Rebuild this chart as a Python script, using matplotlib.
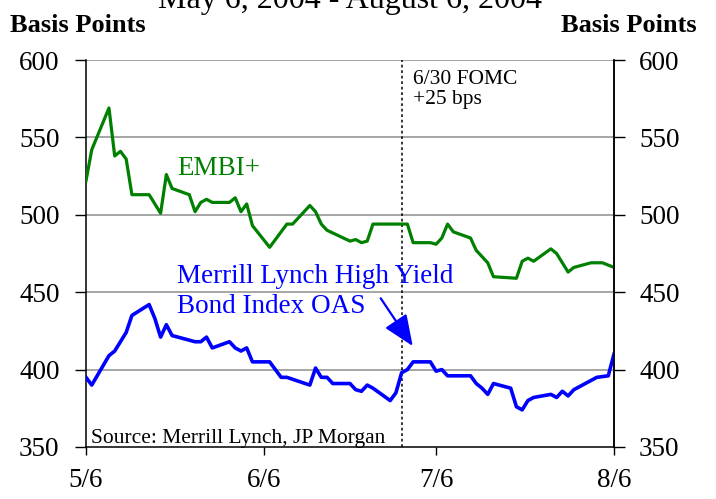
import matplotlib
matplotlib.use("Agg")
import matplotlib.pyplot as plt
import pandas as pd

plt.rcParams['font.family'] = ['Liberation Serif', 'DejaVu Serif']

embi_dates = ["2004-05-06", "2004-05-07", "2004-05-10", "2004-05-11", "2004-05-12", "2004-05-13",
              "2004-05-14", "2004-05-17", "2004-05-18", "2004-05-19", "2004-05-20", "2004-05-21",
              "2004-05-24", "2004-05-25", "2004-05-26", "2004-05-27", "2004-05-28", "2004-05-31",
              "2004-06-01", "2004-06-02", "2004-06-03", "2004-06-04", "2004-06-07", "2004-06-08",
              "2004-06-10", "2004-06-11", "2004-06-14", "2004-06-15", "2004-06-16", "2004-06-17",
              "2004-06-21", "2004-06-22", "2004-06-23", "2004-06-24", "2004-06-25", "2004-07-01",
              "2004-07-02", "2004-07-05", "2004-07-06", "2004-07-07", "2004-07-08", "2004-07-09",
              "2004-07-12", "2004-07-13", "2004-07-15", "2004-07-16", "2004-07-20", "2004-07-21",
              "2004-07-22", "2004-07-23", "2004-07-26", "2004-07-27", "2004-07-29", "2004-07-30",
              "2004-08-02", "2004-08-04", "2004-08-06"]
embi_values = [522, 542, 569, 538, 541, 536,
               513, 513, 507, 501, 526, 517,
               513, 502, 508, 510, 508, 508,
               511, 502, 507, 493, 479, 484,
               494, 494, 506, 502, 494, 490,
               483, 484, 482, 483, 494, 494,
               482, 482, 481, 485, 494, 489,
               485, 477, 469, 460, 459, 470,
               472, 470, 478, 475, 463, 466,
               469, 469, 466]

ml_dates = ["2004-05-06", "2004-05-07", "2004-05-10", "2004-05-11", "2004-05-12", "2004-05-13",
            "2004-05-14", "2004-05-17", "2004-05-18", "2004-05-19", "2004-05-20", "2004-05-21",
            "2004-05-25", "2004-05-26", "2004-05-27", "2004-05-28", "2004-05-31", "2004-06-01",
            "2004-06-02", "2004-06-03", "2004-06-04", "2004-06-07", "2004-06-09", "2004-06-10",
            "2004-06-14", "2004-06-15", "2004-06-16", "2004-06-17", "2004-06-18", "2004-06-21",
            "2004-06-22", "2004-06-23", "2004-06-24", "2004-06-25", "2004-06-28", "2004-06-29",
            "2004-06-30", "2004-07-01", "2004-07-02", "2004-07-05", "2004-07-06", "2004-07-07",
            "2004-07-08", "2004-07-12", "2004-07-13", "2004-07-14", "2004-07-15", "2004-07-16",
            "2004-07-19", "2004-07-20", "2004-07-21", "2004-07-22", "2004-07-23", "2004-07-26",
            "2004-07-27", "2004-07-28", "2004-07-29", "2004-07-30", "2004-08-03", "2004-08-05",
            "2004-08-06"]
ml_values = [395, 390, 409, 412, 418, 424,
             435, 442, 433, 421, 429, 422,
             418, 418, 421, 414, 418, 414,
             412, 414, 405, 405, 395, 395,
             390, 401, 395, 395, 391, 391,
             387, 386, 390, 388, 380, 385,
             398, 400, 405, 405, 399, 400,
             396, 396, 391, 388, 384, 391,
             388, 376, 374, 380, 382, 384,
             382, 386, 383, 387, 395, 396,
             410]

xtick_dates = ["2004-05-06", "2004-06-06", "2004-07-06", "2004-08-06"]
xtick_labels = ["5/6", "6/6", "7/6", "8/6"]
yticks = [350, 400, 450, 500, 550, 600]
fomc_date = "2004-06-30"
title = "May 6, 2004 - August 6, 2004"

W, H = 716, 499
fig = plt.figure(figsize=(W / 100, H / 100), dpi=100)
ax = fig.add_axes([86 / W, 1 - 447 / H, 528 / W, 387 / H])

ed = pd.to_datetime(embi_dates)
md = pd.to_datetime(ml_dates)
green = "#008000"
blue = "#0000FF"

for y in yticks[1:]:
    ax.axhline(y, color="#a6a6a6", lw=1.4, zorder=1)

ax.plot(ed, embi_values, color=green, lw=2.3, zorder=3)
ax.plot(md, ml_values, color=blue, lw=2.6, zorder=3)
ax.axvline(pd.Timestamp(fomc_date), color="black", lw=1.1, ls=(0, (1.8, 1.8)), zorder=2)

ax.set_xlim(pd.Timestamp(xtick_dates[0]), pd.Timestamp(xtick_dates[-1]))
ax.set_ylim(yticks[0], yticks[-1])
ax.set_xticks(pd.to_datetime(xtick_dates))
ax.set_xticklabels(xtick_labels)
ax.set_yticks(yticks)
ax.set_yticklabels([str(v) for v in yticks])
ax.tick_params(axis="x", direction="out", length=6, width=1, labelsize=19.5, pad=9)
ax.tick_params(axis="y", direction="out", length=8, width=1, labelsize=19.5, pad=11)

for s in ["left", "bottom", "right"]:
    ax.spines[s].set_color("black")
    ax.spines[s].set_linewidth(1.1)
ax.spines["top"].set_visible(False)

ax2 = ax.twinx()
ax2.set_ylim(yticks[0], yticks[-1])
ax2.set_yticks(yticks)
ax2.set_yticklabels([str(v) for v in yticks])
ax2.tick_params(axis="y", direction="out", length=8, width=1, labelsize=19.5, pad=10)
for s in ["left", "bottom", "top"]:
    ax2.spines[s].set_visible(False)
ax2.spines["right"].set_color("black")
ax2.spines["right"].set_linewidth(1.1)

ax.text(0.172, 0.703, "EMBI+", transform=ax.transAxes, color=green, fontsize=19.5, va="baseline")
ax.text(0.172, 0.424, "Merrill Lynch High Yield", transform=ax.transAxes, color=blue,
        fontsize=19.5, va="baseline")
ax.text(0.172, 0.346, "Bond Index OAS", transform=ax.transAxes, color=blue,
        fontsize=19.5, va="baseline")
ax.text(0.619, 0.939, "6/30 FOMC", transform=ax.transAxes, color="black", fontsize=15.5, va="baseline")
ax.text(0.619, 0.887, "+25 bps", transform=ax.transAxes, color="black", fontsize=15.5, va="baseline")
ax.text(0.0095, 0.011, "Source: Merrill Lynch, JP Morgan", transform=ax.transAxes,
        color="black", fontsize=15.5, va="baseline")

ax.annotate("", xy=((412.7 - 86) / 528, (447 - 346) / 387), xycoords="axes fraction",
            xytext=((380.7 - 86) / 528, (447 - 298.3) / 387), textcoords="axes fraction",
            arrowprops=dict(arrowstyle="-|>,head_length=0.95,head_width=0.4", color=blue,
                            lw=1.6, mutation_scale=20, shrinkA=0, shrinkB=0))

fig.text(10 / W, 1 - 32 / H, "Basis Points", fontsize=19, fontweight="bold", va="baseline", ha="left")
fig.text(697 / W, 1 - 32 / H, "Basis Points", fontsize=19, fontweight="bold", va="baseline", ha="right")
fig.text(350 / W, 1 - 8 / H, title, fontsize=23, va="baseline", ha="center")

fig.savefig("out.png", dpi=100)
